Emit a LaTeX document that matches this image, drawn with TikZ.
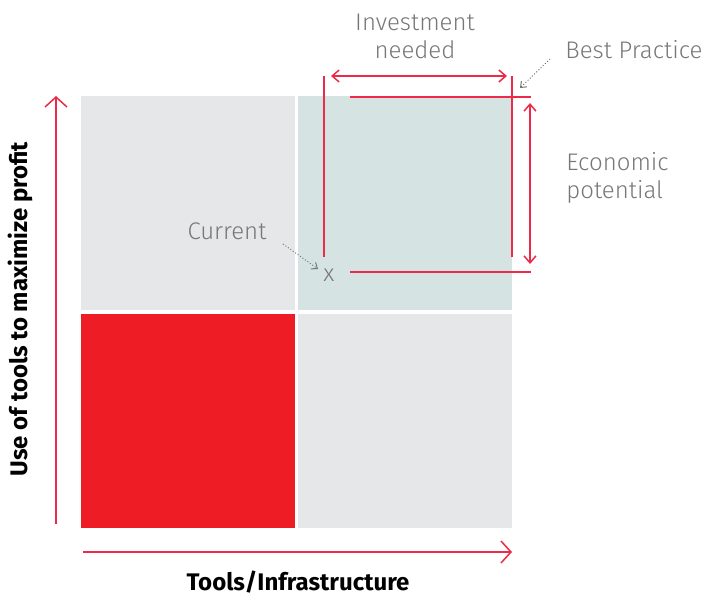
\documentclass[tikz,border=0pt]{standalone}
\usepackage{fontspec}
\setmainfont{Fira Sans}
\newfontfamily\lightfont{Fira Sans Light}
\usetikzlibrary{arrows.meta}
\definecolor{quadgray}{HTML}{E6E7E9}
\definecolor{quadteal}{HTML}{D5E4E3}
\definecolor{quadred}{HTML}{EE1C25}
\definecolor{linered}{HTML}{EE2A4A}
\definecolor{textgray}{HTML}{777777}
\tikzset{
  redline/.style={linered, line width=0.75pt},
  axisarrow/.style={redline, -{Straight Barb[length=5pt,width=11pt]}},
  dimarrow/.style={redline, {Straight Barb[length=3.5pt,width=6pt]}-{Straight Barb[length=3.5pt,width=6pt]}},
  pointer/.style={textgray, densely dotted, line width=0.5pt, -{Straight Barb[length=2.5pt,width=4pt]}},
  graylabel/.style={textgray, font=\lightfont\fontsize{12}{14}\selectfont, align=center, inner sep=0pt},
  axislabel/.style={font=\bfseries\fontsize{12}{14}\selectfont, inner sep=0pt},
}
\begin{document}
\begin{tikzpicture}[x=0.5pt,y=-0.5pt]
    \useasboundingbox (0,0) rectangle (707,594);

    % Quadrants
    \fill[quadgray] (81,96) rectangle (295,310);
    \fill[quadteal] (298,96) rectangle (512,310);
    \fill[quadred] (81,314) rectangle (295,528);
    \fill[quadgray] (298,314) rectangle (512,528);

    \coordinate (yfrom) at (56,524);
    \coordinate (yto) at (56,96);
    \coordinate (xfrom) at (83,552);
    \coordinate (xto) at (512,552);

    % Axes
    \draw[axisarrow] (yfrom) -- (yto);
    \draw[axisarrow] (xfrom) -- (xto);
    \node[axislabel, rotate=90] (ylabel) at (20,309) {Use of tools to maximize profit};
    \node[axislabel] (xlabel) at (298,582) {Tools/Infrastructure};

    \coordinate (lt) at (324,76); \coordinate (lb) at (324,257);
    \coordinate (rt) at (512,76); \coordinate (rb) at (512,257);
    \coordinate (ta) at (350,97); \coordinate (tb) at (531,97);
    \coordinate (ba) at (350,272); \coordinate (bb) at (531,272);
    \coordinate (inva) at (331,76); \coordinate (invb) at (507,76);
    \coordinate (eca) at (530,103); \coordinate (ecb) at (530,264);

    % Dimension lines (red)
    \draw[redline] (lt) -- (lb);
    \draw[redline] (rt) -- (rb);
    \draw[redline] (ta) -- (tb);
    \draw[redline] (ba) -- (bb);
    \draw[dimarrow] (inva) -- (invb);
    \draw[dimarrow] (eca) -- (ecb);

    % Labels
    \node[graylabel] (invest) at (415,36) {Investment\\needed};
    \node[graylabel, anchor=west] (best) at (565,50) {Best Practice};
    \node[graylabel, anchor=west, align=left] (econ) at (566,178) {Economic\\potential};
    \node[graylabel] (current) at (227,231) {Current};
    \node[graylabel] (cur) at (329,275) {x};

    \coordinate (bestfrom) at (550,59); \coordinate (bestto) at (520,88);
    \coordinate (curfrom) at (283,244); \coordinate (curto) at (318,269);
    \draw[pointer] (bestfrom) -- (bestto);
    \draw[pointer] (curfrom) -- (curto);
\end{tikzpicture}
\end{document}
